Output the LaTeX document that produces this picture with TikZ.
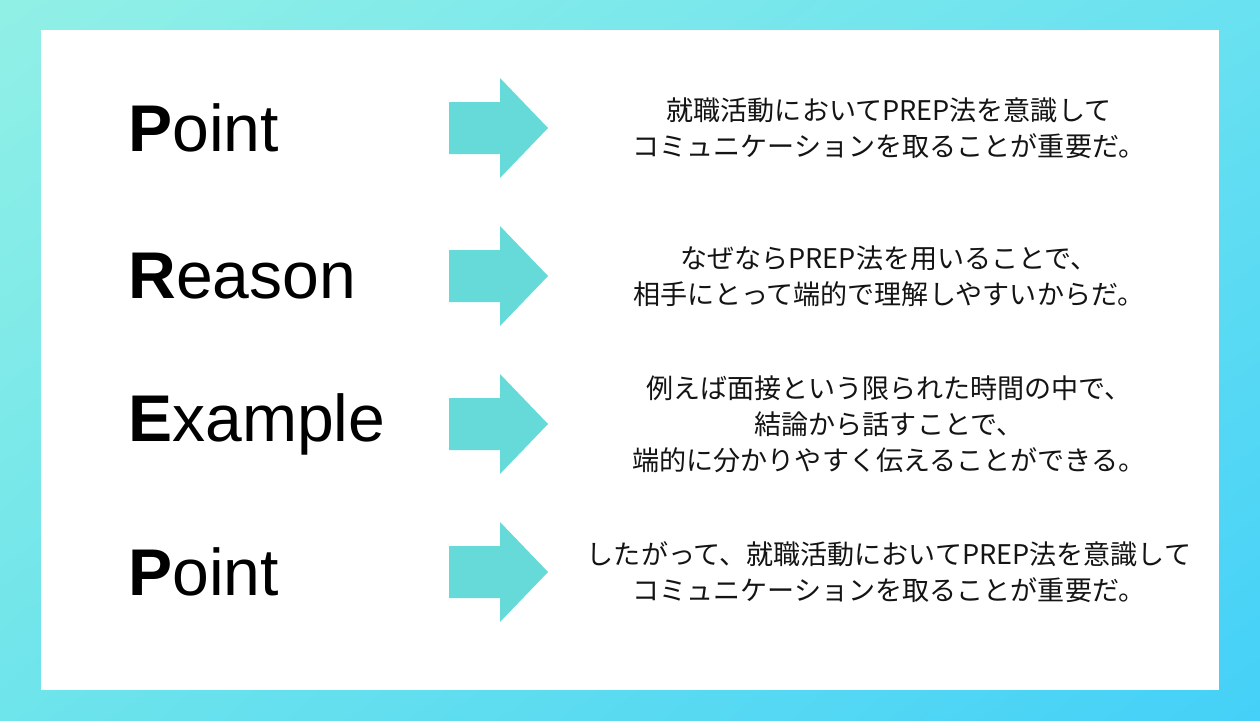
\documentclass[tikz,border=0pt]{standalone}
\usepackage{fontspec}
\setmainfont{Liberation Sans}
\newfontfamily\jpfont{Noto Sans CJK JP}
\usetikzlibrary{shadings}
\definecolor{bgtl}{RGB}{145, 240, 230}
\definecolor{bgtr}{RGB}{105, 225, 240}
\definecolor{bgbl}{RGB}{110, 228, 235}
\definecolor{bgbr}{RGB}{68, 208, 248}
\definecolor{arrowcyan}{RGB}{102, 218, 216}
\definecolor{textblack}{RGB}{20, 20, 20}
\tikzset{
    stepword/.style={anchor=west,font=\fontsize{37.6}{42}\selectfont,text=black,inner sep=0pt},
    steptext/.style={align=center,font=\jpfont\fontsize{15.4}{20.5}\selectfont,text=textblack,inner sep=0pt}
}
\begin{document}
\begin{tikzpicture}[x=0.02cm,y=-0.02cm]
    % Background
    \shade[upper left=bgtl,upper right=bgtr,lower left=bgbl,lower right=bgbr] (0,0) rectangle (1260,720);
    \useasboundingbox (0,0) rectangle (1260,720);
    \fill[white] (41,30) rectangle (1219,690);

    % Rows
    \foreach \y/\word/\txt [count=\i] in {
        128/{\textbf{P}oint}/{就職活動においてPREP法を意識して\\コミュニケーションを取ることが重要だ。},
        276/{\textbf{R}eason}/{なぜならPREP法を用いることで、\\相手にとって端的で理解しやすいからだ。},
        424/{\textbf{E}xample}/{例えば面接という限られた時間の中で、\\結論から話すことで、\\端的に分かりやすく伝えることができる。},
        572/{\textbf{P}oint}/{したがって、就職活動においてPREP法を意識して\\コミュニケーションを取ることが重要だ。}} {
        \node[stepword] (word\i) at (128,\y) {\word};
        \fill[arrowcyan] (449,\y-26) -- (500,\y-26) -- (500,\y-50) -- (548,\y)
            -- (500,\y+50) -- (500,\y+26) -- (449,\y+26) -- cycle;
        \node[steptext] (text\i) at (889,\y) {\txt};
    }
\end{tikzpicture}
\end{document}
